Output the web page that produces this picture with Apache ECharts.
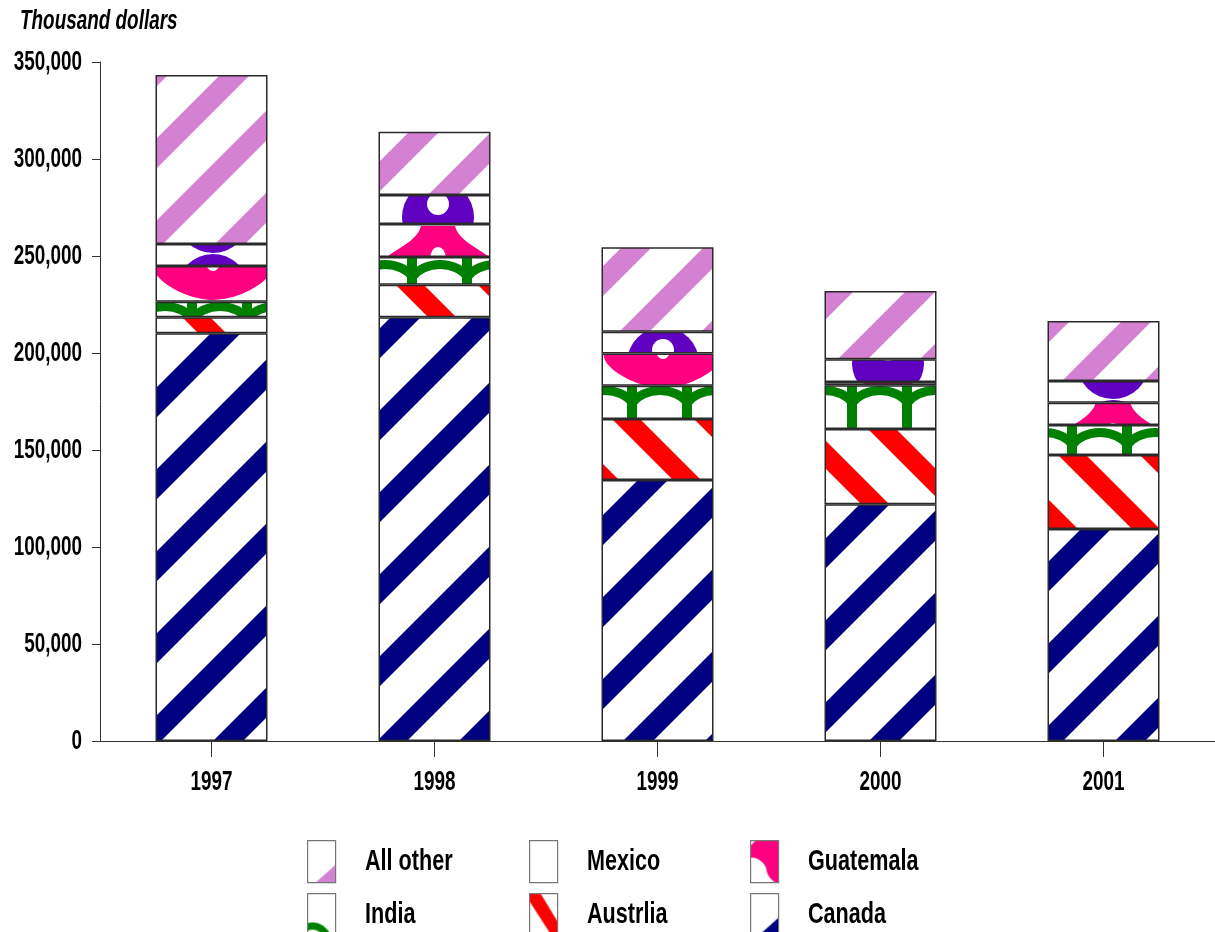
<!DOCTYPE html>
<html>
<head>
<meta charset="utf-8">
<script src="https://cdn.jsdelivr.net/npm/echarts@6/dist/echarts.min.js"></script>
<style>
  html, body { margin: 0; padding: 0; background: #fff; }
  #chart { width: 1215px; height: 932px; }
</style>
</head>
<body>
<div id="chart"></div>
<script>
// Imports by country, thousand dollars
const years = ['1997', '1998', '1999', '2000', '2001'];
const canada    = [210200, 218400, 134500, 122000, 109300];
const austrlia  = [8200, 16800, 31500, 38800, 38100];
const india     = [8000, 14300, 17100, 22600, 15500];
const guatemala = [18400, 17000, 16700, 1700, 11500];
const mexico    = [11400, 14900, 11200, 11700, 11200];
const allOther  = [87100, 32700, 43500, 35200, 30900];
const yTicks = [0, 50000, 100000, 150000, 200000, 250000, 300000, 350000];
const yMax = 350000;
const yStep = 50000;

// Condensed bold lettering: regular font squeezed horizontally
const FONT = "'Liberation Sans', Arial, sans-serif";
const SQUEEZE = 0.7;

// Build a repeating canvas tile used as a fill
function tile(w, h, draw) {
  const c = document.createElement('canvas');
  c.width = w; c.height = h;
  const g = c.getContext('2d');
  g.fillStyle = '#ffffff';
  g.fillRect(0, 0, w, h);
  draw(g, w, h);
  return { image: c, repeat: 'repeat' };
}

// "/" stripes: band centred on x + y = mid (mod p)
function slash(color, p, mid, thick) {
  return tile(p, p, (g) => {
    g.strokeStyle = color;
    g.lineWidth = thick / Math.SQRT2;
    for (let k = -3; k <= 3; k++) {
      const c = mid + k * p;
      g.beginPath();
      g.moveTo(c + 300, -300);
      g.lineTo(c - 300, 300);
      g.stroke();
    }
  });
}

// "\" stripes: band centred on x - y = mid (mod p)
function backslash(color, p, mid, thick) {
  return tile(p, p, (g) => {
    g.strokeStyle = color;
    g.lineWidth = thick / Math.SQRT2;
    for (let k = -3; k <= 3; k++) {
      const c = mid + k * p;
      g.beginPath();
      g.moveTo(c - 300, -300);
      g.lineTo(c + 300, 300);
      g.stroke();
    }
  });
}

// Arches on columns, green
function archTile() {
  const w = 55, h = 42;
  return tile(w, h, (g) => {
    g.strokeStyle = '#008000';
    g.lineCap = 'butt';
    for (const dx of [-55, 0, 55]) {
      g.lineWidth = 10;
      g.beginPath();
      g.moveTo(27 + dx, -10);
      g.lineTo(27 + dx, h + 10);
      g.stroke();
      for (const dy of [-42, 0, 42]) {
        g.lineWidth = 9;
        g.beginPath();
        g.moveTo(27 + dx, 26 + dy);
        g.bezierCurveTo(38 + dx, 8 + dy, 72 + dx, 8 + dy, 83 + dx, 26 + dy);
        g.stroke();
      }
    }
  });
}

// Bell-shaped blobs, pink
function bellTile() {
  const w = 225, h = 88;
  return tile(w, h, (g) => {
    const shape = (cx, y0) => {
      g.fillStyle = '#ff0080';
      g.beginPath();
      g.moveTo(cx - 17, y0);
      g.lineTo(cx + 17, y0);
      g.bezierCurveTo(cx + 22, y0 + 18, cx + 45, y0 + 22, cx + 58, y0 + 38);
      g.bezierCurveTo(cx + 66, y0 + 50, cx + 30, y0 + 74, cx, y0 + 74);
      g.bezierCurveTo(cx - 30, y0 + 74, cx - 66, y0 + 50, cx - 58, y0 + 38);
      g.bezierCurveTo(cx - 45, y0 + 22, cx - 22, y0 + 18, cx - 17, y0);
      g.closePath();
      g.fill();
      g.fillStyle = '#ffffff';
      g.beginPath();
      g.ellipse(cx, y0 + 33, 8, 12, 0, 0, Math.PI * 2);
      g.fill();
    };
    for (const cx of [213, 213 - w]) {
      for (const y0 of [50 - h, 50, 50 + h]) shape(cx, y0);
    }
  });
}

// Rings, purple
function ringTile() {
  const w = 225, h = 73;
  return tile(w, h, (g) => {
    const centres = [];
    for (const cx of [213, 213 - w]) {
      for (const cy of [-2 - h, -2, -2 + h, -2 + 2 * h]) centres.push([cx, cy]);
    }
    g.fillStyle = '#6000c0';
    for (const [cx, cy] of centres) {
      g.beginPath(); g.arc(cx, cy, 36, 0, Math.PI * 2); g.fill();
    }
    g.fillStyle = '#ffffff';
    for (const [cx, cy] of centres) {
      g.beginPath(); g.arc(cx, cy - 13, 11, 0, Math.PI * 2); g.fill();
    }
  });
}

const fills = {
  'Canada': slash('#000080', 82, 67, 30),
  'Austrlia': backslash('#ff0000', 82, 43, 28),
  'India': archTile(),
  'Guatemala': bellTile(),
  'Mexico': ringTile(),
  'All other': slash('#d481d1', 82, 64, 30)
};

// Small swatches for the legend keys (28 x 42)
const SW = 28, SH = 42;
const swatches = {
  'All other': tile(SW, SH, (g) => {
    g.fillStyle = '#d481d1';
    g.beginPath(); g.moveTo(8, 42); g.lineTo(28, 24); g.lineTo(28, 42); g.closePath(); g.fill();
  }),
  'Mexico': tile(SW, SH, () => {}),
  'Guatemala': tile(SW, SH, (g) => {
    g.fillStyle = '#ff0080';
    g.fillRect(0, 0, SW, SH);
    g.fillStyle = '#ffffff';
    g.beginPath(); g.moveTo(0, 0); g.lineTo(5, 0); g.lineTo(0, 5); g.closePath(); g.fill();
    g.beginPath();
    g.moveTo(0, 17);
    g.bezierCurveTo(8, 16, 16, 24, 16, 30);
    g.bezierCurveTo(17, 36, 22, 40, 25, 42);
    g.lineTo(0, 42);
    g.closePath();
    g.fill();
  }),
  'India': tile(SW, SH, (g) => {
    g.strokeStyle = '#008000';
    g.lineWidth = 7;
    g.beginPath(); g.moveTo(-2, 34); g.quadraticCurveTo(12, 28, 22, 45); g.stroke();
  }),
  'Austrlia': tile(SW, SH, (g) => {
    g.fillStyle = '#ff0000';
    g.beginPath();
    g.moveTo(0, 0); g.lineTo(11, 0); g.lineTo(28, 28); g.lineTo(28, 42); g.lineTo(22, 42); g.lineTo(0, 8);
    g.closePath(); g.fill();
  }),
  'Canada': tile(SW, SH, (g) => {
    g.fillStyle = '#000080';
    g.beginPath(); g.moveTo(8, 42); g.lineTo(28, 24); g.lineTo(28, 42); g.closePath(); g.fill();
  })
};

const stackOrder = [
  ['Canada', canada],
  ['Austrlia', austrlia],
  ['India', india],
  ['Guatemala', guatemala],
  ['Mexico', mexico],
  ['All other', allOther]
];

const series = stackOrder.map(([name, values]) => ({
  name: name,
  type: 'bar',
  stack: 'total',
  barWidth: 112,
  data: values,
  itemStyle: {
    color: fills[name],
    borderColor: '#2a2a2a',
    borderWidth: 1.5
  },
  emphasis: { disabled: true }
}));

// Legend laid out as a 3 x 2 grid; key text is drawn separately
const legendCells = [
  ['All other', 307, 840], ['Mexico', 529, 840], ['Guatemala', 750, 840],
  ['India', 307, 893], ['Austrlia', 529, 893], ['Canada', 750, 893]
];
const legends = legendCells.map(([name, x, y]) => ({
  data: [{ name: name, itemStyle: { color: swatches[name] } }],
  left: x,
  top: y,
  padding: 0,
  icon: 'rect',
  itemWidth: SW,
  itemHeight: SH,
  selectedMode: false,
  formatter: () => '',
  itemStyle: { borderColor: '#777', borderWidth: 1.2 },
  textStyle: { fontSize: 1 }
}));

const axisColor = '#333';
const chart = echarts.init(document.getElementById('chart'), null, { renderer: 'canvas' });
chart.setOption({
  animation: false,
  backgroundColor: '#ffffff',
  legend: legends,
  grid: { left: 100, top: 62, width: 1125, height: 679, containLabel: false },
  xAxis: {
    type: 'category',
    data: years,
    axisLine: { show: true, lineStyle: { color: axisColor, width: 1 } },
    axisTick: { show: true, alignWithLabel: true, length: 16, lineStyle: { color: axisColor } },
    axisLabel: { show: false },
    splitLine: { show: false }
  },
  yAxis: {
    type: 'value',
    min: 0,
    max: yMax,
    interval: yStep,
    axisLine: { show: true, lineStyle: { color: axisColor, width: 1 } },
    axisTick: { show: true, length: 8, lineStyle: { color: axisColor } },
    axisLabel: { show: false },
    splitLine: { show: false }
  },
  series: series
});

// Text, placed from the axes' own scales
function label(text, x, y, align, size, extra) {
  return {
    type: 'text',
    x: x,
    y: y,
    scaleX: SQUEEZE,
    silent: true,
    style: Object.assign({
      text: text,
      fill: '#000',
      font: 'bold ' + size + 'px ' + FONT,
      textAlign: align,
      textVerticalAlign: 'middle'
    }, extra || {})
  };
}

const graphics = [];
const axisY = chart.convertToPixel({ yAxisIndex: 0 }, 0);
yTicks.forEach((v) => {
  const py = chart.convertToPixel({ yAxisIndex: 0 }, v);
  graphics.push(label(v.toLocaleString('en-US'), 82, py + 1, 'right', 27));
});
years.forEach((yr) => {
  const px = chart.convertToPixel({ xAxisIndex: 0 }, yr);
  graphics.push(label(yr, px, axisY + 42, 'center', 27));
});
legendCells.forEach(([name, x, y]) => {
  graphics.push(Object.assign(label(name, x + 58, y + SH / 2 + 1, 'left', 30), { scaleX: 0.72 }));
});
graphics.push(label('Thousand dollars', 20, 22, 'left', 27, {
  font: 'italic bold 27px ' + FONT
}));

chart.setOption({ graphic: graphics });
</script>
</body>
</html>
